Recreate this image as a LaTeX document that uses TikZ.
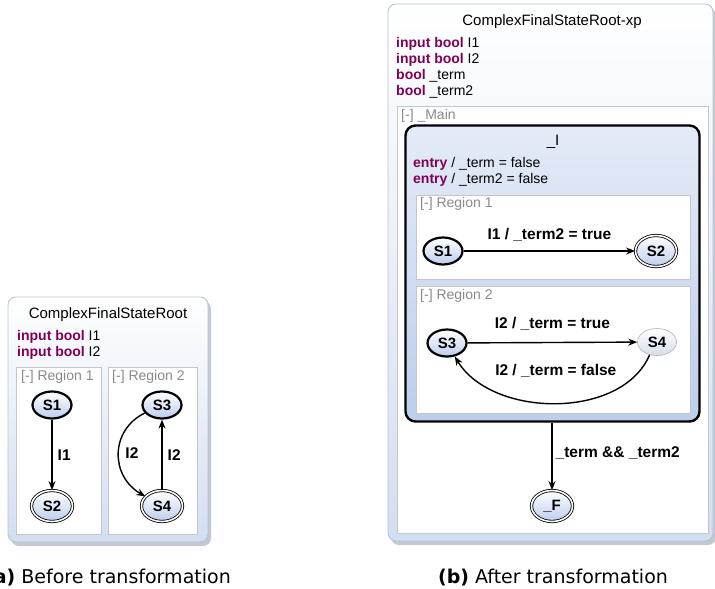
\documentclass[tikz,border=0pt]{standalone}
\usepackage{fontspec}
\setmainfont{Liberation Sans}
\newfontfamily\capfont{DejaVu Sans}
\usetikzlibrary{arrows.meta,shapes.geometric}
\definecolor{kw}{HTML}{7F0055}
\definecolor{boxborder}{HTML}{B4C0D4}
\definecolor{boxbottom}{HTML}{D2DEF1}
\definecolor{statebottom}{HTML}{BCCEEC}
\definecolor{normbottom}{HTML}{D6DDE8}
\definecolor{reggray}{HTML}{8A8A8A}
\definecolor{regborder}{HTML}{C6C6C6}
\definecolor{shadowc}{HTML}{C4C8D0}
\begin{document}
\begin{tikzpicture}[x=1pt,y=-1pt,
  font=\fontsize{14}{16}\selectfont,
  st/.style={ellipse, draw=black, top color=white, bottom color=statebottom,
    font=\fontsize{15}{17}\selectfont\bfseries, minimum width=39pt, minimum height=27pt, inner sep=0pt},
  init/.style={st, line width=2.2pt},
  fin/.style={st, double, double distance=1.6pt, line width=0.8pt, minimum width=41pt, minimum height=31pt},
  norm/.style={st, draw=gray!60, bottom color=normbottom, line width=0.6pt},
  tr/.style={-{Stealth[length=9pt,width=7pt]}, line width=1.4pt},
  lbl/.style={font=\fontsize{15.5}{17}\selectfont\bfseries, inner sep=1pt},
  rootbox/.style={draw=boxborder, line width=0.8pt, top color=white, bottom color=boxbottom, rounded corners=8pt},
  shad/.style={fill=shadowc, rounded corners=8pt},
  region/.style={draw=regborder, line width=0.7pt, fill=white},
  regtitle/.style={anchor=west, text=reggray, inner sep=0pt},
  decl/.style={anchor=west, inner sep=0pt},
  title/.style={font=\fontsize{15}{17}\selectfont, inner sep=0pt},
  captxt/.style={font=\capfont\fontsize{19}{21}\selectfont, inner sep=0pt}
]
\useasboundingbox (0,0) rectangle (715,589);

% ================= (a) =================
\fill[shad] (11,301) rectangle (211,546);
\draw[rootbox] (8,297) rectangle (208,542);
\node[title] (atitle) at (108,315) {ComplexFinalStateRoot};
\node[decl] (ad1) at (17,337) {\textcolor{kw}{\bfseries input bool} I1};
\node[decl] (ad2) at (17,353) {\textcolor{kw}{\bfseries input bool} I2};

\draw[region] (16,367) rectangle (101,534);
\draw[region] (108,367) rectangle (197,534);
\node[regtitle] (ar1) at (21,377) {[-] Region 1};
\node[regtitle] (ar2) at (112,377) {[-] Region 2};

\node[init] (as1) at (52,405) {S1};
\node[fin]  (as2) at (52,506) {S2};
\node[init] (as3) at (162,405) {S3};
\node[fin]  (as4) at (162,506) {S4};

\draw[tr] (as1) -- (as2) node[midway, right=4pt, lbl] {I1};
\draw[tr] (as3.205) .. controls (110,430) and (110,476) .. (as4.150)
  node[pos=0.5, right=5pt, lbl] {I2};
\draw[tr] (as4) -- (as3) node[midway, right=4pt, lbl] {I2};

\node[captxt] (acap) at (108,578) {\textbf{(a)} Before transformation};

% ================= (b) =================
\fill[shad] (391,8) rectangle (716,545);
\draw[rootbox] (388,4) rectangle (713,541);
\node[title] (btitle) at (552,22) {ComplexFinalStateRoot-xp};
\node[decl] (bd1) at (396,44) {\textcolor{kw}{\bfseries input bool} I1};
\node[decl] (bd2) at (396,60) {\textcolor{kw}{\bfseries input bool} I2};
\node[decl] (bd3) at (396,76) {\textcolor{kw}{\bfseries bool} \_term};
\node[decl] (bd4) at (396,92) {\textcolor{kw}{\bfseries bool} \_term2};

\draw[region] (397,106) rectangle (708,533);
\node[regtitle] (bmain) at (401,116) {[-] \_Main};

\node[draw=black, line width=2.4pt, rounded corners=10pt, top color=white!60!statebottom, bottom color=statebottom,
  minimum width=294pt, minimum height=296pt, inner sep=0pt] (mI) at (552.5,273.5) {};
\node[title] (mItitle) at (553,142) {\_I};
\node[decl] (be1) at (413,164) {\textcolor{kw}{\bfseries entry} / \_term = false};
\node[decl] (be2) at (413,180) {\textcolor{kw}{\bfseries entry} / \_term2 = false};

\draw[region] (416,195) rectangle (690,279);
\draw[region] (416,286) rectangle (690,413);
\node[regtitle] (br1) at (420,204) {[-] Region 1};
\node[regtitle] (br2) at (420,296) {[-] Region 2};

\node[init] (bs1) at (443,251) {S1};
\node[fin]  (bs2) at (656,251) {S2};
\node[init] (bs3) at (447,343) {S3};
\node[norm] (bs4) at (657,342) {S4};

\draw[tr] (bs1) -- (bs2) node[midway, above=8pt, lbl] {I1 / \_term2 = true};
\draw[tr] (bs3) -- (bs4) node[midway, above=10pt, lbl] {I2 / \_term = true};
\draw[tr] (bs4.240) .. controls (622,420) and (492,418) .. (bs3.300)
  node[pos=0.5, above=24pt, lbl] {I2 / \_term = false};

\node[fin] (bF) at (552,506) {\_F};
\draw[tr] (mI.south -| bF) -- (bF) node[pos=0.45, right=2pt, lbl] {\_term \&\& \_term2};

\node[captxt] (bcap) at (553,578) {\textbf{(b)} After transformation};
\end{tikzpicture}
\end{document}
